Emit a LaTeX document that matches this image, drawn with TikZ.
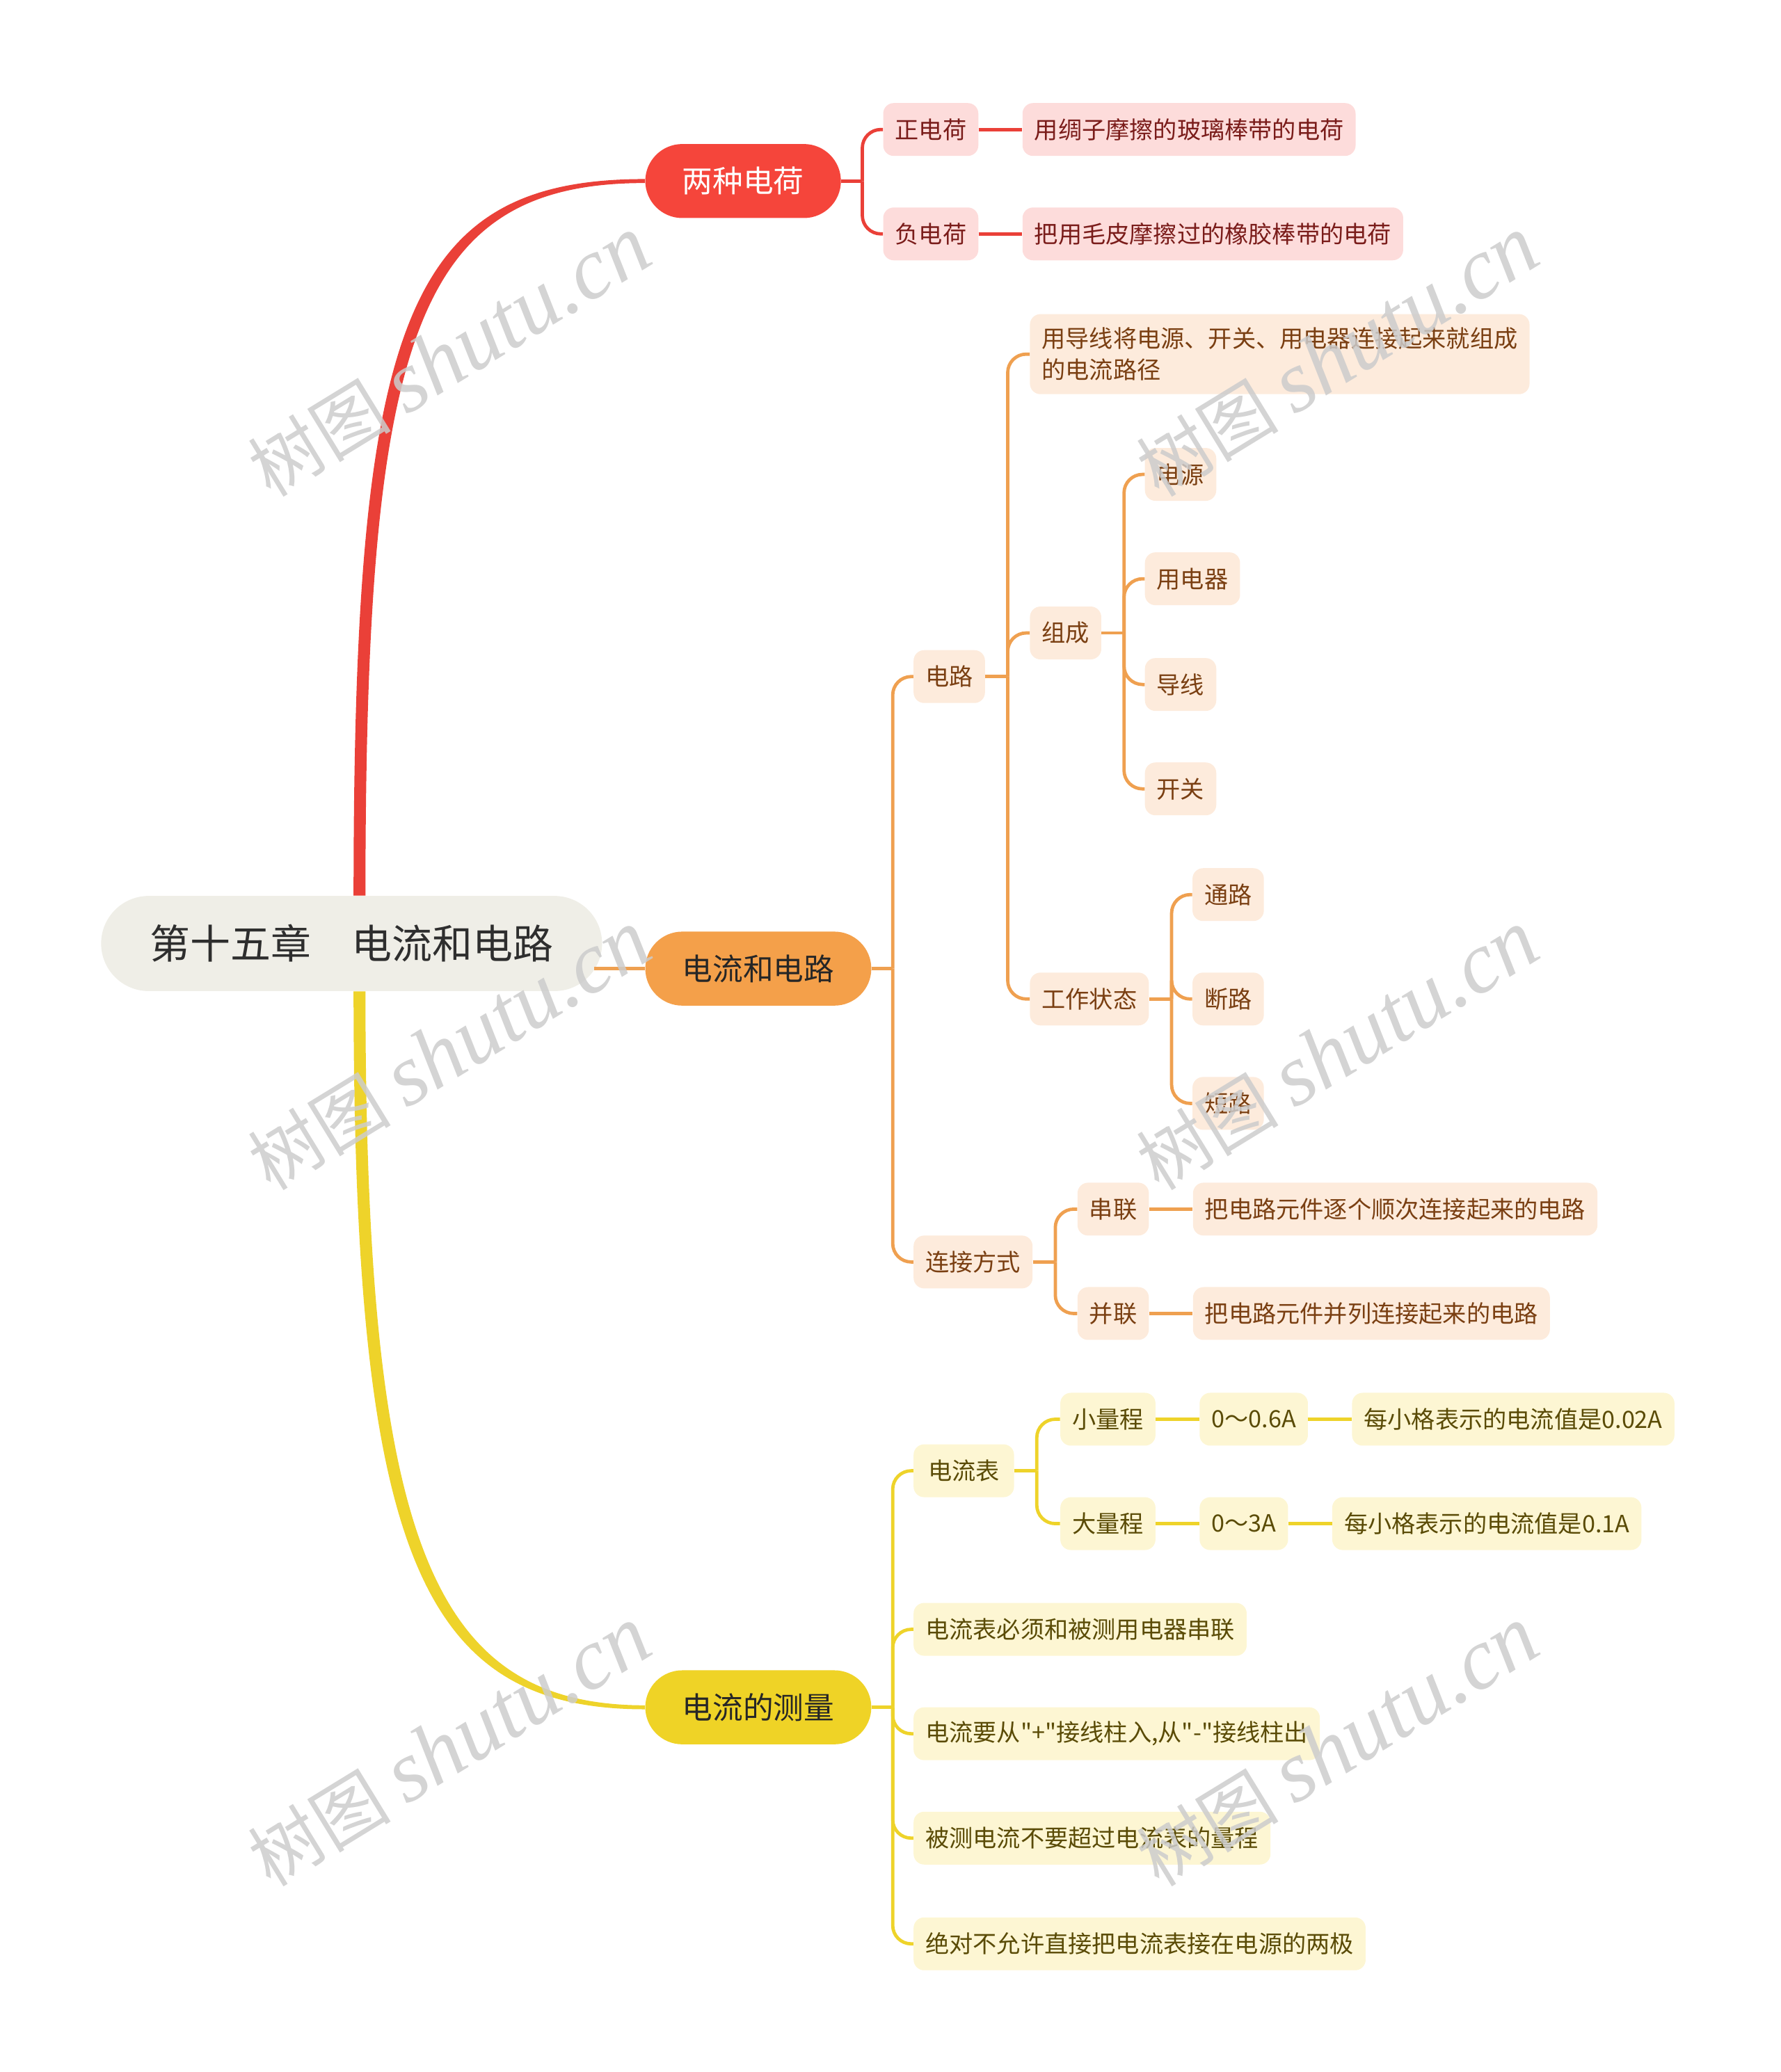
\documentclass[tikz,border=0pt]{standalone}
\usepackage{fontspec}
\setmainfont{Noto Sans CJK SC}[Ligatures=TeXOff]
\newfontfamily\wmlatin{Liberation Serif}
\usetikzlibrary{positioning}

\definecolor{rootfill}{HTML}{EFEEE7}
\definecolor{redmain}{HTML}{F5453B}
\definecolor{redline}{HTML}{EA4038}
\definecolor{redleaf}{HTML}{FDDCDB}
\definecolor{redtext}{HTML}{7A1C1A}
\definecolor{orgmain}{HTML}{F4A04A}
\definecolor{orgline}{HTML}{EFA050}
\definecolor{orgleaf}{HTML}{FDEBDC}
\definecolor{orgtext}{HTML}{7A3F12}
\definecolor{ylwmain}{HTML}{EFD326}
\definecolor{ylwline}{HTML}{EED32A}
\definecolor{ylwleaf}{HTML}{FDF6D3}
\definecolor{ylwtext}{HTML}{5A4B06}

\begin{document}
\begin{tikzpicture}[
    x=1pt, y=-1pt,
    node distance=33pt,
    rootbox/.style={rectangle, rounded corners=36pt, fill=rootfill, minimum height=72pt, inner xsep=37pt, text=black!82, font=\fontsize{30.5}{34}\selectfont},
    mainbox/.style={rectangle, rounded corners=28pt, minimum height=56pt, inner xsep=28pt, font=\fontsize{23}{27}\selectfont},
    leaf/.style={rectangle, rounded corners=8pt, minimum height=40pt, inner xsep=9pt, inner ysep=10pt, font=\fontsize{18}{24}\selectfont},
    rleaf/.style={leaf, fill=redleaf, text=redtext},
    oleaf/.style={leaf, fill=orgleaf, text=orgtext},
    yleaf/.style={leaf, fill=ylwleaf, text=ylwtext},
    rlink/.style={draw=redline, line width=2.5pt},
    olink/.style={draw=orgline, line width=2.5pt},
    ylink/.style={draw=ylwline, line width=2.5pt},
    watermark/.style={text=black!20, opacity=0.85, rotate=31.5, font=\fontsize{54}{60}\selectfont}
]
    \useasboundingbox (0,0) rectangle (1347,1568);

    % Nodes
    \node[rootbox] (root) at (266,714) {第十五章　电流和电路};

    \node[mainbox, fill=redmain, text=white, anchor=west] (charge) at (488,137) {两种电荷};
    \node[mainbox, fill=orgmain, text=black!85, anchor=west] (circuitmain) at (488,733) {电流和电路};
    \node[mainbox, fill=ylwmain, text=black!85, anchor=west] (measure) at (488,1292) {电流的测量};

    % two kinds of charge
    \node[rleaf, anchor=west] (pos) at (668,98) {正电荷};
    \node[rleaf, right=of pos] (posdef) {用绸子摩擦的玻璃棒带的电荷};
    \node[rleaf, anchor=west] (neg) at (668,177) {负电荷};
    \node[rleaf, right=of neg] (negdef) {把用毛皮摩擦过的橡胶棒带的电荷};

    % circuit
    \node[oleaf, anchor=west] (circuit) at (691,512) {电路};
    \node[oleaf, anchor=west, align=left] (circuitdef) at (779,268) {用导线将电源、开关、用电器连接起来就组成\\的电流路径};
    \node[oleaf, anchor=west] (parts) at (779,479) {组成};
    \node[oleaf, anchor=west] (source) at (866,359) {电源};
    \node[oleaf, anchor=west] (load) at (866,438) {用电器};
    \node[oleaf, anchor=west] (wire) at (866,518) {导线};
    \node[oleaf, anchor=west] (switch) at (866,597) {开关};
    \node[oleaf, anchor=west] (states) at (779,756) {工作状态};
    \node[oleaf, anchor=west] (closed) at (902,677) {通路};
    \node[oleaf, anchor=west] (open) at (902,756) {断路};
    \node[oleaf, anchor=west] (short) at (902,835) {短路};
    \node[oleaf, anchor=west] (connect) at (691,955) {连接方式};
    \node[oleaf, anchor=west] (series) at (815,915) {串联};
    \node[oleaf, right=of series] (seriesdef) {把电路元件逐个顺次连接起来的电路};
    \node[oleaf, anchor=west] (parallel) at (815,994) {并联};
    \node[oleaf, right=of parallel] (paralleldef) {把电路元件并列连接起来的电路};

    % measuring current
    \node[yleaf, anchor=west, inner xsep=11pt] (ammeter) at (691,1113) {电流表};
    \node[yleaf, anchor=west] (small) at (802,1074) {小量程};
    \node[yleaf, right=of small] (smallrange) {0～0.6A};
    \node[yleaf, right=of smallrange] (smalldiv) {每小格表示的电流值是0.02A};
    \node[yleaf, anchor=west] (large) at (802,1153) {大量程};
    \node[yleaf, right=of large] (largerange) {0～3A};
    \node[yleaf, right=of largerange] (largediv) {每小格表示的电流值是0.1A};
    \node[yleaf, anchor=west] (rule1) at (691,1233) {电流表必须和被测用电器串联};
    \node[yleaf, anchor=west] (rule2) at (691,1312) {电流要从"+"接线柱入,从"-"接线柱出};
    \node[yleaf, anchor=west] (rule3) at (691,1391) {被测电流不要超过电流表的量程};
    \node[yleaf, anchor=west] (rule4) at (691,1471) {绝对不允许直接把电流表接在电源的两极};

    % Branches from the root
    \fill[redline] ([xshift=1.5pt]root.north) .. controls ([xshift=1.5pt]root.north |- 0,245) and (306,135.5) .. ([yshift=1.5pt]charge.west)
        -- ([yshift=-1.5pt]charge.west) .. controls (314,138.5) and ([xshift=10.5pt]root.north |- 0,255) .. ([xshift=10.5pt]root.north) -- cycle;
    \fill[ylwline] ([xshift=1.5pt]root.south) .. controls ([xshift=1.5pt]root.south |- 0,1175) and (318,1293.5) .. ([yshift=-1.5pt]measure.west)
        -- ([yshift=1.5pt]measure.west) .. controls (326,1290.5) and ([xshift=10.5pt]root.south |- 0,1165) .. ([xshift=10.5pt]root.south) -- cycle;
    \draw[olink, line width=3pt] ([xshift=-6pt]root.east |- circuitmain.west) -- (circuitmain.west);

    % Links
    \draw[rlink] (charge.east) -- ++(16,0);
    \foreach \c in {pos, neg}
        \draw[rlink, rounded corners=14pt] ([xshift=16pt]charge.east) |- (\c.west);
    \draw[rlink] (pos) -- (posdef);
    \draw[rlink] (neg) -- (negdef);

    \draw[olink] (circuitmain.east) -- ++(16,0);
    \foreach \c in {circuit, connect}
        \draw[olink, rounded corners=14pt] ([xshift=16pt]circuitmain.east) |- (\c.west);
    \draw[olink] (circuit.east) -- ++(17,0);
    \foreach \c in {circuitdef, parts, states}
        \draw[olink, rounded corners=14pt] ([xshift=17pt]circuit.east) |- (\c.west);
    \draw[olink] (parts.east) -- ++(17,0);
    \foreach \c in {source, load, wire, switch}
        \draw[olink, rounded corners=14pt] ([xshift=17pt]parts.east) |- (\c.west);
    \draw[olink] (states.east) -- ++(17,0);
    \foreach \c in {closed, open, short}
        \draw[olink, rounded corners=14pt] ([xshift=17pt]states.east) |- (\c.west);
    \draw[olink] (connect.east) -- ++(17,0);
    \foreach \c in {series, parallel}
        \draw[olink, rounded corners=14pt] ([xshift=17pt]connect.east) |- (\c.west);
    \draw[olink] (series) -- (seriesdef);
    \draw[olink] (parallel) -- (paralleldef);

    \draw[ylink] (measure.east) -- ++(16,0);
    \foreach \c in {ammeter, rule1, rule2, rule3, rule4}
        \draw[ylink, rounded corners=14pt] ([xshift=16pt]measure.east) |- (\c.west);
    \draw[ylink] (ammeter.east) -- ++(17,0);
    \foreach \c in {small, large}
        \draw[ylink, rounded corners=14pt] ([xshift=17pt]ammeter.east) |- (\c.west);
    \draw[ylink] (small) -- (smallrange) -- (smalldiv);
    \draw[ylink] (large) -- (largerange) -- (largediv);

    % Watermarks
    \foreach \x/\y [count=\i] in {340/270, 1012/270, 340/795, 1012/795, 340/1322, 1012/1322}
        \node[watermark] (wm\i) at (\x,\y) {树图 {\wmlatin\itshape\fontsize{66}{70}\selectfont shutu.cn}};
\end{tikzpicture}
\end{document}
